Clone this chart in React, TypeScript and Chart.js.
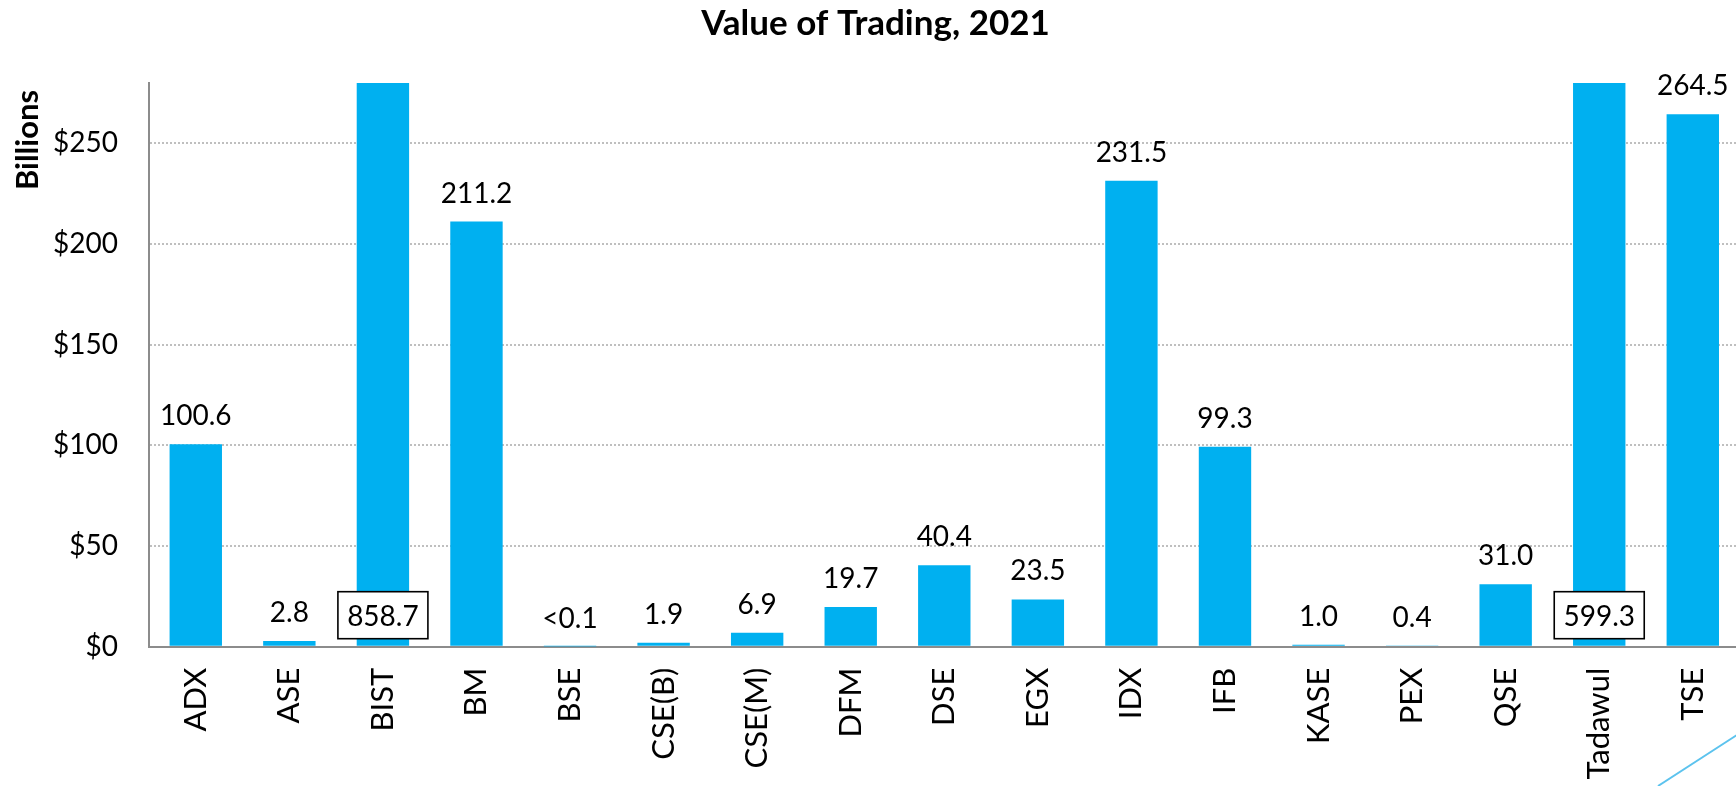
import React, { useEffect, useRef } from "react";
import { Chart, registerables } from "chart.js";

Chart.register(...registerables);

const categories = ["ADX", "ASE", "BIST", "BM", "BSE", "CSE(B)", "CSE(M)", "DFM", "DSE", "EGX", "IDX", "IFB", "KASE", "PEX", "QSE", "Tadawul", "TSE"];
const values = [100.6, 2.8, 858.7, 211.2, 0.05, 1.9, 6.9, 19.7, 40.4, 23.5, 231.5, 99.3, 1.0, 0.4, 31.0, 599.3, 264.5];
const valueLabels = ["100.6", "2.8", "858.7", "211.2", "<0.1", "1.9", "6.9", "19.7", "40.4", "23.5", "231.5", "99.3", "1.0", "0.4", "31.0", "599.3", "264.5"];
const yMin = 0;
const yMax = 280;
const yStep = 50;
const chartTitle = "Value of Trading, 2021";
const yTitle = "Billions";

const FONT = "Lato, 'Open Sans', sans-serif";
const BAR_COLOR = "#00B0F0";
const AXIS_COLOR = "#8C8C8C";
const GRID_COLOR = "#BFBFBF";

const valueLabelPlugin = {
  id: "valueLabels",
  afterDatasetsDraw(chart: any) {
    const { ctx, scales } = chart;
    const y = scales.y;
    const meta = chart.getDatasetMeta(0);
    const base = y.getPixelForValue(0);
    ctx.save();
    ctx.font = `28px ${FONT}`;
    ctx.textAlign = "center";
    ctx.textBaseline = "alphabetic";
    meta.data.forEach((bar: any, i: number) => {
      const v = values[i];
      const txt = valueLabels[i];
      if (v > y.max) {
        const w = 90;
        const h = 47;
        const bx = bar.x - w / 2;
        const by = base - 8 - h;
        ctx.fillStyle = "#FFFFFF";
        ctx.fillRect(bx, by, w, h);
        ctx.lineWidth = 1.6;
        ctx.strokeStyle = "#000000";
        ctx.strokeRect(bx, by, w, h);
        ctx.fillStyle = "#000000";
        ctx.fillText(txt, bar.x, base - 21);
      } else {
        ctx.fillStyle = "#000000";
        ctx.fillText(txt, bar.x, bar.y - 19);
      }
    });
    ctx.restore();
  },
};

const decorPlugin = {
  id: "decor",
  afterDraw(chart: any) {
    const { ctx, chartArea } = chart;
    ctx.save();
    // rotated y-axis title, placed at the top of the axis
    ctx.font = `bold 31px ${FONT}`;
    ctx.fillStyle = "#000000";
    ctx.textAlign = "center";
    ctx.textBaseline = "middle";
    ctx.translate(28, chartArea.top + 57);
    ctx.rotate(-Math.PI / 2);
    ctx.fillText(yTitle, 0, 0);
    ctx.restore();

    // decorative slide accent line bottom-right
    ctx.save();
    ctx.strokeStyle = "#5CC3EE";
    ctx.lineWidth = 2;
    ctx.beginPath();
    ctx.moveTo(1658, 786);
    ctx.lineTo(1740, 733);
    ctx.stroke();
    ctx.restore();
  },
};

export default function App() {
  const canvasRef = useRef<HTMLCanvasElement | null>(null);

  useEffect(() => {
    if (!canvasRef.current) return;
    const chart = new Chart(canvasRef.current, {
      type: "bar",
      data: {
        labels: categories,
        datasets: [
          {
            data: values,
            backgroundColor: BAR_COLOR,
            borderWidth: 0,
            barPercentage: 0.56,
            categoryPercentage: 1,
          },
        ],
      },
      options: {
        animation: false,
        responsive: false,
        layout: { padding: 0 },
        plugins: {
          legend: { display: false },
          tooltip: { enabled: false },
          title: {
            display: true,
            text: chartTitle,
            color: "#000000",
            font: { family: FONT, size: 35, weight: "bold" },
            padding: { top: 3, bottom: 38 },
          },
        },
        scales: {
          x: {
            grid: { display: false, drawTicks: false },
            border: { display: true, color: AXIS_COLOR, width: 2 },
            ticks: {
              color: "#000000",
              font: { family: FONT, size: 31 },
              minRotation: 90,
              maxRotation: 90,
              autoSkip: false,
              padding: 21,
            },
            afterFit: (scale: any) => {
              scale.height = 139.3;
            },
          },
          y: {
            min: yMin,
            max: yMax,
            grid: { display: true, drawTicks: false, color: GRID_COLOR, lineWidth: 2 },
            border: { display: true, color: AXIS_COLOR, width: 2, dash: [2, 2] },
            ticks: {
              stepSize: yStep,
              includeBounds: false,
              color: "#000000",
              font: { family: FONT, size: 28 },
              padding: 31,
              callback: (v: any) => "$" + v,
            },
            afterFit: (scale: any) => {
              scale.width = 149;
            },
          },
        },
      },
      plugins: [valueLabelPlugin, decorPlugin],
    });
    return () => chart.destroy();
  }, []);

  return (
    <div style={{ position: "fixed", left: 0, top: 0, width: "100vw", height: "100vh", overflow: "hidden", background: "#FFFFFF" }}>
      <canvas ref={canvasRef} width={1751} height={786} style={{ display: "block" }} />
    </div>
  );
}
